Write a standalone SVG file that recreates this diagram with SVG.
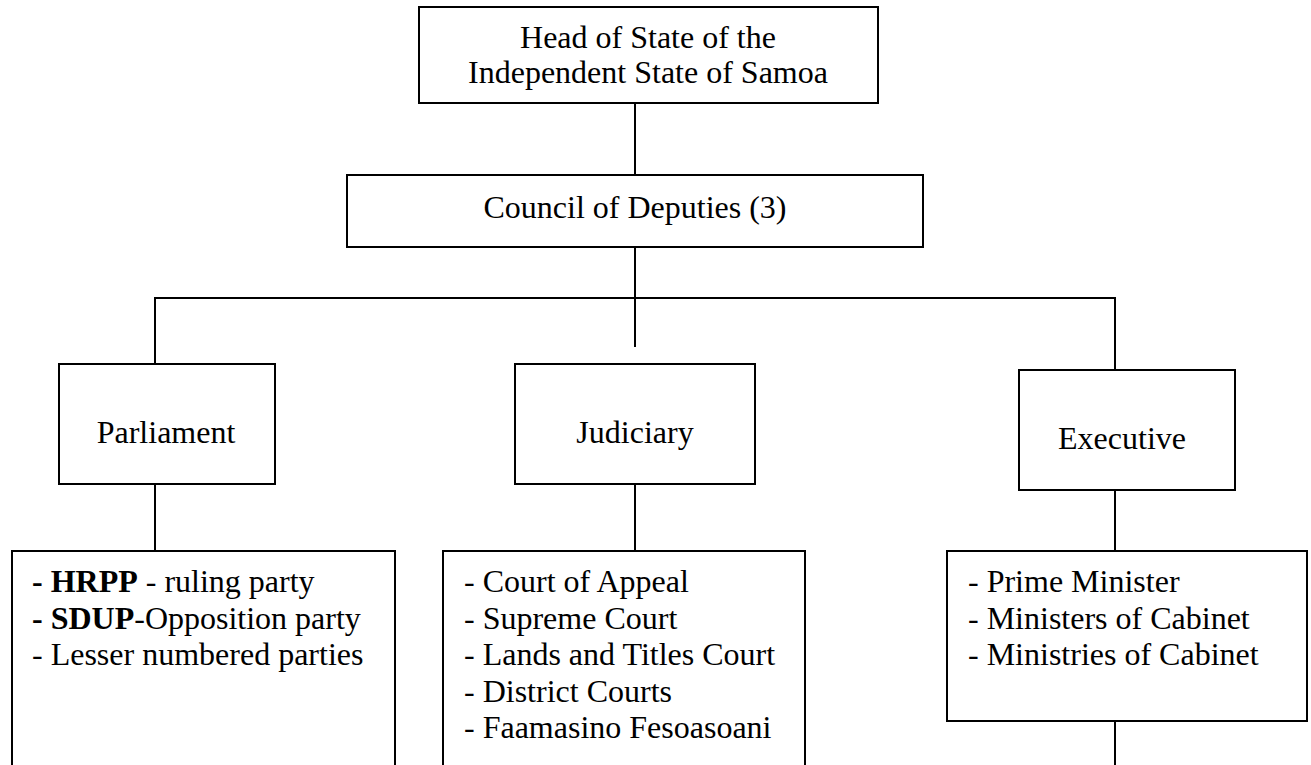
<svg xmlns="http://www.w3.org/2000/svg" width="1311" height="765" viewBox="0 0 1311 765">
<style>
.box{fill:#fff;stroke:#000;stroke-width:2}
.ln{stroke:#000;stroke-width:2;fill:none}
text{font-family:"Liberation Serif","Times New Roman",serif;font-size:32px;fill:#000}
.c{text-anchor:middle}
.b{font-weight:bold}
</style>
<rect width="1311" height="765" fill="#fff"/>
<g id="connectors">
<line class="ln" x1="635" y1="103" x2="635" y2="175"/>
<line class="ln" x1="635" y1="247" x2="635" y2="298"/>
<line class="ln" x1="154" y1="298" x2="1116" y2="298"/>
<line class="ln" x1="155" y1="298" x2="155" y2="364"/>
<line class="ln" x1="635" y1="298" x2="635" y2="347"/>
<line class="ln" x1="1115" y1="298" x2="1115" y2="370"/>
<line class="ln" x1="155" y1="484" x2="155" y2="553"/>
<line class="ln" x1="635" y1="484" x2="635" y2="553"/>
<line class="ln" x1="1115" y1="484" x2="1115" y2="553"/>
<line class="ln" x1="1115" y1="717" x2="1115" y2="765"/>
</g>
<g id="head">
<rect class="box" x="419" y="7" width="459" height="96"/>
<text class="c" x="648" y="48">Head of State of the</text>
<text class="c" x="648" y="83">Independent State of Samoa</text>
</g>
<g id="council">
<rect class="box" x="347" y="175" width="576" height="72"/>
<text class="c" x="635" y="218">Council of Deputies (3)</text>
</g>
<g id="parliament">
<rect class="box" x="59" y="364" width="216" height="120"/>
<text class="c" x="166" y="443">Parliament</text>
</g>
<g id="judiciary">
<rect class="box" x="515" y="364" width="240" height="120"/>
<text class="c" x="635" y="443">Judiciary</text>
</g>
<g id="executive">
<rect class="box" x="1019" y="370" width="216" height="120"/>
<text class="c" x="1122" y="449">Executive</text>
</g>
<g id="parliament-list">
<rect class="box" x="12" y="551" width="383" height="220"/>
<text x="32" y="592"><tspan class="b">- HRPP</tspan> - ruling party</text>
<text x="32" y="628.5"><tspan class="b">- SDUP</tspan>-Opposition party</text>
<text x="32" y="665">- Lesser numbered parties</text>
</g>
<g id="judiciary-list">
<rect class="box" x="443" y="551" width="362" height="220"/>
<text x="464" y="592">- Court of Appeal</text>
<text x="464" y="628.5">- Supreme Court</text>
<text x="464" y="665">- Lands and Titles Court</text>
<text x="464" y="701.5">- District Courts</text>
<text x="464" y="738">- Faamasino Fesoasoani</text>
</g>
<g id="executive-list">
<rect class="box" x="947" y="551" width="360" height="170"/>
<text x="968" y="592">- Prime Minister</text>
<text x="968" y="628.5">- Ministers of Cabinet</text>
<text x="968" y="665">- Ministries of Cabinet</text>
</g>
</svg>
